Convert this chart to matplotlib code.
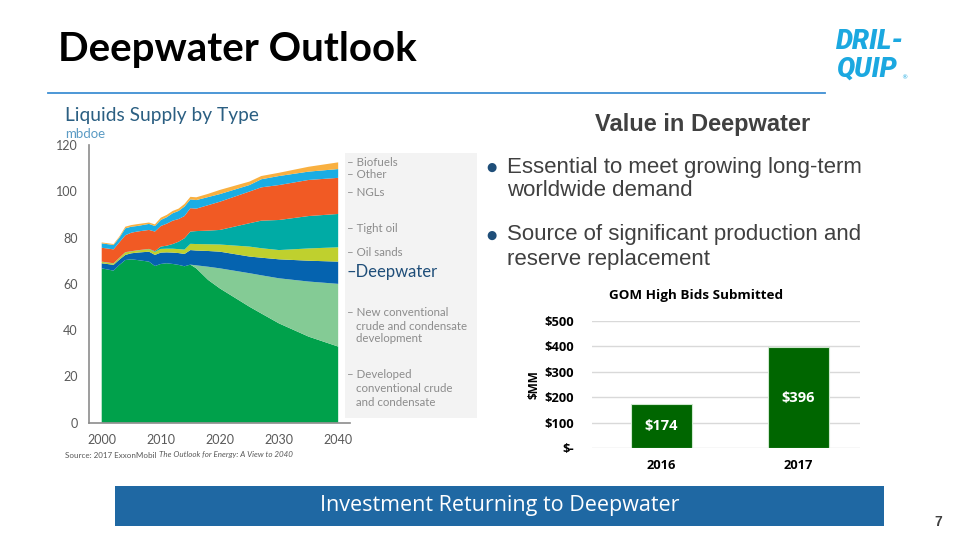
import numpy as np
import matplotlib
matplotlib.use("Agg")
import matplotlib.pyplot as plt
from matplotlib.patches import Rectangle

# ===================== data =====================
years = [2000, 2002, 2003, 2004, 2005, 2006, 2008, 2009, 2010, 2011, 2012,
         2013, 2014, 2015, 2016, 2018, 2020, 2025, 2027, 2030, 2035, 2040]

developed = [66.7, 65.7, 68.2, 70.3, 70.6, 70.3, 69.6, 67.7, 68.6, 68.9, 68.6,
             68.2, 67.6, 68.3, 66.7, 61.7, 58.0, 50.1, 47.2, 42.9, 37.2, 32.9]
new_conv = [0, 0, 0, 0, 0, 0, 0, 0, 0, 0, 0,
            0, 0, 0, 1.3, 5.7, 8.7, 14.5, 16.5, 19.5, 23.8, 27.1]
deepwater = [2.2, 2.5, 2.3, 2.2, 2.6, 3.2, 4.3, 4.8, 4.9, 4.7, 4.9,
             5.1, 5.3, 6.3, 6.4, 6.8, 7.2, 7.2, 7.6, 8.2, 9.0, 9.6]
oil_sands = [0.6, 0.6, 0.7, 1.1, 0.8, 0.9, 1.1, 1.3, 1.6, 1.6, 1.7,
             1.7, 1.9, 2.7, 2.8, 2.9, 3.1, 4.3, 4.1, 4.0, 5.3, 6.2]
tight_oil = [0.1, 0.1, 0.1, 0.1, 0.1, 0.1, 0.1, 0.3, 1.0, 1.3, 2.0,
             3.2, 4.9, 5.3, 5.6, 5.9, 6.3, 10.1, 11.9, 13.0, 14.0, 14.4]
ngls = [6.0, 6.0, 6.7, 7.3, 8.0, 8.1, 8.2, 8.5, 8.9, 9.5, 10.1,
        9.8, 9.6, 10.1, 9.7, 11.0, 12.2, 13.7, 14.4, 15.1, 15.6, 15.6]
other = [1.9, 1.9, 2.0, 3.0, 2.6, 2.4, 2.6, 2.4, 2.6, 2.8, 3.2,
         3.5, 4.1, 3.8, 3.7, 3.5, 3.3, 2.8, 3.5, 3.9, 3.6, 3.8]
biofuels = [0.4, 0.4, 0.5, 0.7, 0.7, 0.8, 0.6, 0.7, 1.0, 1.0, 1.0,
            1.0, 1.1, 1.1, 1.2, 1.4, 1.8, 1.5, 1.4, 1.4, 2.1, 2.9]

layer_colors = ["#00A14B", "#84CB95", "#0563AF", "#BFD02E",
                "#00ABA5", "#F15A24", "#1AADE4", "#F9B040"]

bid_years = ["2016", "2017"]
bid_values = [174, 396]
bid_labels = ["$174", "$396"]

# ===================== figure =====================
W, H = 960, 540
fig = plt.figure(figsize=(W / 100, H / 100), dpi=100)
fig.patch.set_facecolor("white")


def rect(x0, y0, x1, y1):
    """pixel box (top-left origin) -> figure fraction rect"""
    return [x0 / W, 1 - y1 / H, (x1 - x0) / W, (y1 - y0) / H]


def ftxt(x, y, s, **kw):
    return fig.text(x / W, 1 - y / H, s, **kw)


# ---- header ----
ftxt(58, 50, "Deepwater Outlook", family="Lato", weight="bold",
     fontsize=29, color="black", va="center", ha="left")
fig.add_artist(plt.Line2D([48 / W, 825 / W], [1 - 93 / H, 1 - 93 / H],
                          color="#3E8FD3", lw=1.3))
ftxt(836, 42, "DRIL-", family="Roboto", weight="black", style="italic",
     fontsize=19.5, color="#1BA8E0", va="center", ha="left")
ftxt(836, 69, "QUIP", family="Roboto", weight="black", style="italic",
     fontsize=19.5, color="#1BA8E0", va="center", ha="left")
ftxt(901, 78, "®", family="DejaVu Sans", fontsize=4.5, color="#1BA8E0",
     va="center", ha="left")

# ---- stacked area chart ----
ax = fig.add_axes(rect(89, 145, 350, 422.7))
ax.stackplot(years, developed, new_conv, deepwater, oil_sands, tight_oil,
             ngls, other, biofuels, colors=layer_colors, linewidth=0)
ax.set_xlim(1997.85, 2042)
ax.set_ylim(0, 120)
ax.set_xticks([2000, 2010, 2020, 2030, 2040])
ax.set_yticks([0, 20, 40, 60, 80, 100, 120])
for sp in ["top", "right"]:
    ax.spines[sp].set_visible(False)
for sp in ["left", "bottom"]:
    ax.spines[sp].set_color("#8C8C8C")
    ax.spines[sp].set_linewidth(1.2)
ax.tick_params(length=0, labelsize=9, colors="#595959", pad=8)
for lab in ax.get_xticklabels() + ax.get_yticklabels():
    lab.set_family("Lato")
ax.set_facecolor("none")

ftxt(65, 116, "Liquids Supply by Type", family="Lato", fontsize=13.8,
     color="#2B5F82", va="center", ha="left")
ftxt(65, 134, "mbdoe", family="Lato", fontsize=9.5, color="#5B9BC4",
     va="center", ha="left")

src = ftxt(65, 455, "Source: 2017 ExxonMobil ", family="Lato", fontsize=5.8,
           color="#595959", va="center", ha="left")
ax.annotate("The Outlook for Energy: A View to 2040", xy=(1, 0),
            xycoords=src, va="bottom", ha="left", family="Lato",
            fontsize=5.8, style="italic", color="#595959",
            annotation_clip=False)

# legend panel
fig.add_artist(Rectangle((345 / W, 1 - 418 / H), 132 / W, 265 / H,
                         transform=fig.transFigure, facecolor="#F3F3F3",
                         edgecolor="none", zorder=0.5))
legend_items = [
    (163, "– Biofuels"), (174, "– Other"), (192, "– NGLs"),
    (228, "– Tight oil"), (253, "– Oil sands"),
    (313, "– New conventional"), (326, "   crude and condensate"),
    (339, "   development"),
    (375, "– Developed"), (388, "   conventional crude"),
    (402, "   and condensate"),
]
for yy, s in legend_items:
    ftxt(347, yy, s, family="Lato", fontsize=8.3, color="#8C8C8C",
         va="center", ha="left")
ftxt(346, 272, "–Deepwater", family="Lato", fontsize=12, color="#1F4E79",
     va="center", ha="left")

# ---- right text ----
ftxt(703, 125, "Value in Deepwater", family="Liberation Sans", weight="bold",
     fontsize=17, color="#404040", va="center", ha="center")
bullets = [(167, "Essential to meet growing long-term"),
           (191, "worldwide demand"),
           (235, "Source of significant production and"),
           (259, "reserve replacement")]
for yy, s in bullets:
    ftxt(507, yy, s, family="Liberation Sans", fontsize=16,
         color="#404040", va="center", ha="left")
for yy in [167, 235]:
    ftxt(491, yy, "●", family="DejaVu Sans", fontsize=8.5, color="#1F4E79",
         va="center", ha="center")

# ---- bar chart ----
bx = fig.add_axes(rect(592, 320.7, 860, 448.3))
xpos = np.arange(len(bid_years))
bars = bx.bar(xpos, bid_values, width=0.444, color="#006600",
              edgecolor="#CFE8CF", linewidth=0.8, zorder=3)
bx.set_xlim(-0.502, 1.447)
bx.set_ylim(0, 500)
bx.set_yticks([0, 100, 200, 300, 400, 500])
bx.set_yticklabels(["$-", "$100", "$200", "$300", "$400", "$500"])
bx.set_xticks(xpos)
bx.set_xticklabels(bid_years)
bx.grid(axis="y", color="#D9D9D9", lw=1, zorder=0)
for sp in bx.spines.values():
    sp.set_visible(False)
bx.tick_params(length=0, labelsize=9.3, colors="black", pad=13)
bx.tick_params(axis="x", pad=8)
for lab in bx.get_xticklabels() + bx.get_yticklabels():
    lab.set_family("Open Sans")
    lab.set_weight("bold")
for b, lab in zip(bars, bid_labels):
    bx.text(b.get_x() + b.get_width() / 2, b.get_height() / 2, lab,
            ha="center", va="center", color="white", family="Open Sans",
            weight="bold", fontsize=10.5, zorder=4)
bx.set_ylabel("$MM", family="Open Sans", weight="bold", fontsize=8.5,
              labelpad=3)
ftxt(696, 296, "GOM High Bids Submitted", family="Open Sans", weight="bold",
     fontsize=9.7, color="black", va="center", ha="center")

# ---- footer ----
fig.add_artist(Rectangle((115 / W, 1 - 526 / H), 769 / W, 40 / H,
                         transform=fig.transFigure, facecolor="#1F68A3",
                         edgecolor="none"))
ftxt(500, 506, "Investment Returning to Deepwater", family="Open Sans",
     fontsize=15.5, color="white", va="center", ha="center")
ftxt(938, 522, "7", family="Liberation Sans", weight="bold", fontsize=10,
     color="#404040", va="center", ha="center")

fig.savefig("out.png", dpi=100)
